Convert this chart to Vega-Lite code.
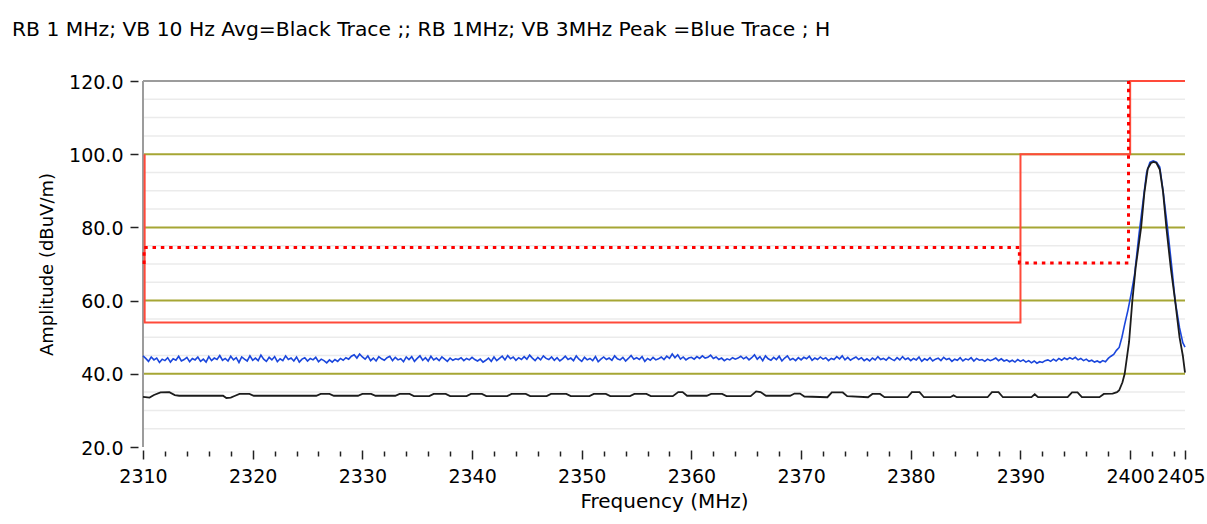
{
"$schema": "https://vega.github.io/schema/vega-lite/v6.json",
"width": 1042,
"height": 366,
"autosize": {"type": "none"},
"padding": {"left": 143, "top": 81, "right": 22, "bottom": 77},
"background": "white",
"config": {"view": {"stroke": null}, "font": "DejaVu Sans"},
"title": {"text": "RB 1 MHz; VB 10 Hz Avg=Black Trace ;; RB 1MHz; VB 3MHz Peak =Blue Trace ; H", "anchor": "start", "frame": "group", "dx": -131, "offset": 33, "fontSize": 20.3, "fontWeight": "normal", "color": "#000000", "font": "DejaVu Sans"},
"resolve": {"axis": {"x": "independent", "y": "independent"}},
"datasets": {
"minor": [{"g":25},{"g":30},{"g":35},{"g":45},{"g":50},{"g":55},{"g":65},{"g":70},{"g":75},{"g":85},{"g":90},{"g":95},{"g":105},{"g":110},{"g":115}],
"major": [{"g":40},{"g":60},{"g":80},{"g":100}],
"topb": [{"g":120}],
"leftb": [{"f":2310}],
"solid": [{"o":1,"f":2310.15,"v":100},{"o":2,"f":2310.15,"v":54},{"o":3,"f":2390,"v":54},{"o":4,"f":2390,"v":100},{"o":5,"f":2400,"v":100},{"o":6,"f":2400,"v":120},{"o":7,"f":2405,"v":120}],
"dotted": [{"o":1,"f":2310.1,"v":70},{"o":2,"f":2310.1,"v":74.5},{"o":3,"f":2389.9,"v":74.5},{"o":4,"f":2389.9,"v":70.3},{"o":5,"f":2399.85,"v":70.3},{"o":6,"f":2399.85,"v":120}],
"black": [{"f":2310,"v":33.7},{"f":2310.6,"v":33.5},{"f":2311,"v":34.2},{"f":2311.6,"v":34.9},{"f":2312.4,"v":35},{"f":2312.9,"v":34.2},{"f":2313.3,"v":34},{"f":2317.3,"v":34},{"f":2317.6,"v":33.4},{"f":2318,"v":33.5},{"f":2318.4,"v":34},{"f":2318.8,"v":34.5},{"f":2319.7,"v":34.5},{"f":2320.1,"v":34},{"f":2325.8,"v":34},{"f":2326.2,"v":34.5},{"f":2327,"v":34.5},{"f":2327.4,"v":34},{"f":2329.6,"v":34},{"f":2330,"v":34.5},{"f":2330.8,"v":34.5},{"f":2331.2,"v":34},{"f":2333,"v":34},{"f":2333.4,"v":34.5},{"f":2334.3,"v":34.5},{"f":2334.7,"v":33.9},{"f":2336.1,"v":33.9},{"f":2336.5,"v":34.5},{"f":2337.6,"v":34.5},{"f":2338,"v":33.9},{"f":2339.5,"v":33.9},{"f":2339.9,"v":34.5},{"f":2340.9,"v":34.5},{"f":2341.3,"v":33.9},{"f":2343.2,"v":33.9},{"f":2343.6,"v":34.5},{"f":2344.9,"v":34.5},{"f":2345.3,"v":33.9},{"f":2346.8,"v":33.9},{"f":2347.2,"v":34.5},{"f":2348.6,"v":34.5},{"f":2349,"v":33.9},{"f":2350.7,"v":33.9},{"f":2351.1,"v":34.5},{"f":2352.2,"v":34.5},{"f":2352.6,"v":33.9},{"f":2354.4,"v":33.9},{"f":2354.8,"v":34.5},{"f":2355.9,"v":34.5},{"f":2356.3,"v":33.9},{"f":2358.3,"v":33.9},{"f":2358.8,"v":35},{"f":2359.2,"v":35},{"f":2359.6,"v":34},{"f":2361.4,"v":34},{"f":2361.8,"v":34.5},{"f":2362.8,"v":34.5},{"f":2363.2,"v":33.9},{"f":2365.4,"v":33.9},{"f":2365.9,"v":35.2},{"f":2366.3,"v":35},{"f":2366.8,"v":34},{"f":2369,"v":34},{"f":2369.4,"v":34.6},{"f":2369.9,"v":34.6},{"f":2370.3,"v":33.8},{"f":2372.4,"v":33.6},{"f":2372.8,"v":34.9},{"f":2373.8,"v":34.9},{"f":2374.2,"v":33.9},{"f":2376.1,"v":33.6},{"f":2376.5,"v":34.5},{"f":2377.2,"v":34.5},{"f":2377.6,"v":33.6},{"f":2379.7,"v":33.6},{"f":2380.1,"v":35},{"f":2380.8,"v":35},{"f":2381.2,"v":33.6},{"f":2383.6,"v":33.6},{"f":2383.9,"v":34.1},{"f":2384.2,"v":33.6},{"f":2387,"v":33.6},{"f":2387.4,"v":35},{"f":2388,"v":35},{"f":2388.4,"v":33.6},{"f":2391,"v":33.6},{"f":2391.3,"v":34.4},{"f":2391.6,"v":33.6},{"f":2394.3,"v":33.6},{"f":2394.7,"v":34.9},{"f":2395.2,"v":34.9},{"f":2395.6,"v":33.6},{"f":2397.2,"v":33.6},{"f":2397.6,"v":34.5},{"f":2398.4,"v":34.6},{"f":2398.8,"v":35},{"f":2399,"v":35.5},{"f":2399.3,"v":37.7},{"f":2399.5,"v":40},{"f":2399.9,"v":48.7},{"f":2400.2,"v":60},{"f":2400.5,"v":69},{"f":2401,"v":80},{"f":2401.3,"v":89.6},{"f":2401.6,"v":96},{"f":2401.9,"v":97.6},{"f":2402.15,"v":97.9},{"f":2402.4,"v":97.6},{"f":2402.7,"v":95.8},{"f":2403,"v":89.7},{"f":2403.3,"v":80},{"f":2403.7,"v":69},{"f":2404.1,"v":60},{"f":2404.5,"v":50},{"f":2404.8,"v":45},{"f":2405,"v":40.3}],
"blue": [
{"f":2310,"v":44.9},{"f":2310.25,"v":44.2},{"f":2310.5,"v":43.4},{"f":2310.75,"v":44.6},{"f":2311,"v":43.8},{"f":2311.25,"v":44.3},{"f":2311.5,"v":43.1},{"f":2311.75,"v":44.0},{"f":2312,"v":43.6},{"f":2312.25,"v":44.4},
{"f":2312.5,"v":43.2},{"f":2312.75,"v":44.1},{"f":2313,"v":43.7},{"f":2313.25,"v":44.8},{"f":2313.5,"v":43.5},{"f":2313.75,"v":43.9},{"f":2314,"v":44.5},{"f":2314.25,"v":43.3},{"f":2314.5,"v":44.2},{"f":2314.75,"v":43.8},
{"f":2315,"v":44.6},{"f":2315.25,"v":43.4},{"f":2315.5,"v":44.0},{"f":2315.75,"v":43.2},{"f":2316,"v":44.7},{"f":2316.25,"v":43.6},{"f":2316.5,"v":44.3},{"f":2316.75,"v":43.9},{"f":2317,"v":45.0},{"f":2317.25,"v":43.7},
{"f":2317.5,"v":44.2},{"f":2317.75,"v":43.5},{"f":2318,"v":44.8},{"f":2318.25,"v":43.8},{"f":2318.5,"v":44.4},{"f":2318.75,"v":43.1},{"f":2319,"v":44.6},{"f":2319.25,"v":44.0},{"f":2319.5,"v":43.5},{"f":2319.75,"v":44.9},
{"f":2320,"v":43.7},{"f":2320.25,"v":44.3},{"f":2320.5,"v":43.6},{"f":2320.75,"v":45.1},{"f":2321,"v":44.0},{"f":2321.25,"v":43.4},{"f":2321.5,"v":44.5},{"f":2321.75,"v":43.8},{"f":2322,"v":44.7},{"f":2322.25,"v":43.3},
{"f":2322.5,"v":44.1},{"f":2322.75,"v":43.6},{"f":2323,"v":44.9},{"f":2323.25,"v":43.9},{"f":2323.5,"v":44.3},{"f":2323.75,"v":43.5},{"f":2324,"v":44.6},{"f":2324.25,"v":43.2},{"f":2324.5,"v":44.0},{"f":2324.75,"v":44.4},
{"f":2325,"v":43.5},{"f":2325.25,"v":44.2},{"f":2325.5,"v":43.8},{"f":2325.75,"v":44.5},{"f":2326,"v":43.3},{"f":2326.25,"v":44.0},{"f":2326.5,"v":43.6},{"f":2326.75,"v":43.0},{"f":2327,"v":43.8},{"f":2327.25,"v":43.2},
{"f":2327.5,"v":43.9},{"f":2327.75,"v":43.4},{"f":2328,"v":44.2},{"f":2328.25,"v":43.7},{"f":2328.5,"v":44.4},{"f":2328.75,"v":44.0},{"f":2329,"v":44.8},{"f":2329.25,"v":45.2},{"f":2329.5,"v":44.3},{"f":2329.75,"v":45.4},
{"f":2330,"v":44.6},{"f":2330.25,"v":44.0},{"f":2330.5,"v":44.9},{"f":2330.75,"v":43.6},{"f":2331,"v":44.3},{"f":2331.25,"v":43.5},{"f":2331.5,"v":44.7},{"f":2331.75,"v":44.1},{"f":2332,"v":43.7},{"f":2332.25,"v":44.4},
{"f":2332.5,"v":44.8},{"f":2332.75,"v":43.6},{"f":2333,"v":44.5},{"f":2333.25,"v":43.8},{"f":2333.5,"v":44.1},{"f":2333.75,"v":43.3},{"f":2334,"v":44.6},{"f":2334.25,"v":43.9},{"f":2334.5,"v":44.7},{"f":2334.75,"v":43.4},
{"f":2335,"v":44.2},{"f":2335.25,"v":44.9},{"f":2335.5,"v":43.7},{"f":2335.75,"v":44.4},{"f":2336,"v":43.5},{"f":2336.25,"v":44.8},{"f":2336.5,"v":43.8},{"f":2336.75,"v":44.3},{"f":2337,"v":43.6},{"f":2337.25,"v":44.6},
{"f":2337.5,"v":44.0},{"f":2337.75,"v":43.4},{"f":2338,"v":44.3},{"f":2338.25,"v":43.7},{"f":2338.5,"v":44.1},{"f":2338.75,"v":43.9},{"f":2339,"v":44.4},{"f":2339.25,"v":43.6},{"f":2339.5,"v":44.2},{"f":2339.75,"v":43.8},
{"f":2340,"v":44.5},{"f":2340.25,"v":43.9},{"f":2340.5,"v":43.5},{"f":2340.75,"v":44.0},{"f":2341,"v":43.2},{"f":2341.25,"v":43.7},{"f":2341.5,"v":44.3},{"f":2341.75,"v":43.4},{"f":2342,"v":44.6},{"f":2342.25,"v":43.6},
{"f":2342.5,"v":44.2},{"f":2342.75,"v":44.8},{"f":2343,"v":43.8},{"f":2343.25,"v":45.0},{"f":2343.5,"v":44.1},{"f":2343.75,"v":44.6},{"f":2344,"v":43.7},{"f":2344.25,"v":44.4},{"f":2344.5,"v":43.9},{"f":2344.75,"v":44.7},
{"f":2345,"v":44.0},{"f":2345.25,"v":45.1},{"f":2345.5,"v":44.3},{"f":2345.75,"v":43.6},{"f":2346,"v":44.5},{"f":2346.25,"v":43.8},{"f":2346.5,"v":44.9},{"f":2346.75,"v":44.2},{"f":2347,"v":43.9},{"f":2347.25,"v":44.6},
{"f":2347.5,"v":43.7},{"f":2347.75,"v":44.4},{"f":2348,"v":43.5},{"f":2348.25,"v":44.1},{"f":2348.5,"v":44.8},{"f":2348.75,"v":43.9},{"f":2349,"v":44.3},{"f":2349.25,"v":43.6},{"f":2349.5,"v":44.9},{"f":2349.75,"v":44.0},
{"f":2350,"v":43.4},{"f":2350.25,"v":44.5},{"f":2350.5,"v":43.8},{"f":2350.75,"v":44.2},{"f":2351,"v":43.6},{"f":2351.25,"v":44.7},{"f":2351.5,"v":43.3},{"f":2351.75,"v":44.0},{"f":2352,"v":44.6},{"f":2352.25,"v":43.9},
{"f":2352.5,"v":44.3},{"f":2352.75,"v":43.7},{"f":2353,"v":44.9},{"f":2353.25,"v":44.1},{"f":2353.5,"v":43.8},{"f":2353.75,"v":44.5},{"f":2354,"v":43.5},{"f":2354.25,"v":44.2},{"f":2354.5,"v":45.0},{"f":2354.75,"v":44.0},
{"f":2355,"v":44.4},{"f":2355.25,"v":43.9},{"f":2355.5,"v":44.7},{"f":2355.75,"v":43.4},{"f":2356,"v":44.2},{"f":2356.25,"v":43.7},{"f":2356.5,"v":44.5},{"f":2356.75,"v":43.8},{"f":2357,"v":44.1},{"f":2357.25,"v":44.6},
{"f":2357.5,"v":43.9},{"f":2357.75,"v":44.8},{"f":2358,"v":44.2},{"f":2358.25,"v":45.4},{"f":2358.5,"v":44.4},{"f":2358.75,"v":45.2},{"f":2359,"v":44.0},{"f":2359.25,"v":44.6},{"f":2359.5,"v":43.8},{"f":2359.75,"v":44.3},
{"f":2360,"v":44.5},{"f":2360.25,"v":44.0},{"f":2360.5,"v":44.7},{"f":2360.75,"v":44.2},{"f":2361,"v":44.9},{"f":2361.25,"v":44.3},{"f":2361.5,"v":44.5},{"f":2361.75,"v":45.1},{"f":2362,"v":44.2},{"f":2362.25,"v":44.6},
{"f":2362.5,"v":43.9},{"f":2362.75,"v":44.3},{"f":2363,"v":43.6},{"f":2363.25,"v":44.1},{"f":2363.5,"v":43.8},{"f":2363.75,"v":44.4},{"f":2364,"v":44.0},{"f":2364.25,"v":44.3},{"f":2364.5,"v":44.8},{"f":2364.75,"v":44.1},
{"f":2365,"v":44.6},{"f":2365.25,"v":43.8},{"f":2365.5,"v":44.4},{"f":2365.75,"v":45.2},{"f":2366,"v":44.0},{"f":2366.25,"v":44.7},{"f":2366.5,"v":43.6},{"f":2366.75,"v":44.9},{"f":2367,"v":44.1},{"f":2367.25,"v":43.7},
{"f":2367.5,"v":44.5},{"f":2367.75,"v":43.9},{"f":2368,"v":44.8},{"f":2368.25,"v":43.5},{"f":2368.5,"v":44.3},{"f":2368.75,"v":44.9},{"f":2369,"v":43.8},{"f":2369.25,"v":44.2},{"f":2369.5,"v":43.6},{"f":2369.75,"v":44.4},
{"f":2370,"v":43.8},{"f":2370.25,"v":44.5},{"f":2370.5,"v":44.1},{"f":2370.75,"v":44.8},{"f":2371,"v":43.7},{"f":2371.25,"v":44.3},{"f":2371.5,"v":43.9},{"f":2371.75,"v":44.6},{"f":2372,"v":44.0},{"f":2372.25,"v":44.4},
{"f":2372.5,"v":43.6},{"f":2372.75,"v":44.2},{"f":2373,"v":43.9},{"f":2373.25,"v":44.7},{"f":2373.5,"v":44.1},{"f":2373.75,"v":44.9},{"f":2374,"v":43.8},{"f":2374.25,"v":44.5},{"f":2374.5,"v":43.7},{"f":2374.75,"v":44.2},
{"f":2375,"v":44.6},{"f":2375.25,"v":43.9},{"f":2375.5,"v":44.4},{"f":2375.75,"v":43.6},{"f":2376,"v":44.1},{"f":2376.25,"v":43.5},{"f":2376.5,"v":44.3},{"f":2376.75,"v":43.8},{"f":2377,"v":44.7},{"f":2377.25,"v":43.9},
{"f":2377.5,"v":44.2},{"f":2377.75,"v":43.7},{"f":2378,"v":44.5},{"f":2378.25,"v":44.0},{"f":2378.5,"v":43.6},{"f":2378.75,"v":44.4},{"f":2379,"v":43.8},{"f":2379.25,"v":44.7},{"f":2379.5,"v":43.9},{"f":2379.75,"v":44.3},
{"f":2380,"v":43.6},{"f":2380.25,"v":44.2},{"f":2380.5,"v":43.8},{"f":2380.75,"v":44.6},{"f":2381,"v":43.4},{"f":2381.25,"v":44.1},{"f":2381.5,"v":43.7},{"f":2381.75,"v":44.4},{"f":2382,"v":43.5},{"f":2382.25,"v":44.0},
{"f":2382.5,"v":44.3},{"f":2382.75,"v":43.6},{"f":2383,"v":44.5},{"f":2383.25,"v":43.9},{"f":2383.5,"v":44.2},{"f":2383.75,"v":43.4},{"f":2384,"v":44.0},{"f":2384.25,"v":43.7},{"f":2384.5,"v":44.4},{"f":2384.75,"v":43.5},
{"f":2385,"v":44.1},{"f":2385.25,"v":43.8},{"f":2385.5,"v":44.4},{"f":2385.75,"v":43.5},{"f":2386,"v":44.2},{"f":2386.25,"v":43.7},{"f":2386.5,"v":43.9},{"f":2386.75,"v":43.4},{"f":2387,"v":44.0},{"f":2387.25,"v":43.6},
{"f":2387.5,"v":43.9},{"f":2387.75,"v":44.3},{"f":2388,"v":43.6},{"f":2388.25,"v":44.1},{"f":2388.5,"v":43.5},{"f":2388.75,"v":43.8},{"f":2389,"v":43.3},{"f":2389.25,"v":43.7},{"f":2389.5,"v":43.2},{"f":2389.75,"v":43.9},
{"f":2390,"v":43.4},{"f":2390.25,"v":43.8},{"f":2390.5,"v":43.2},{"f":2390.75,"v":43.6},{"f":2391,"v":43.0},{"f":2391.25,"v":43.5},{"f":2391.5,"v":42.9},{"f":2391.75,"v":43.3},{"f":2392,"v":43.1},{"f":2392.25,"v":43.6},
{"f":2392.5,"v":43.8},{"f":2392.75,"v":43.4},{"f":2393,"v":44.0},{"f":2393.25,"v":43.5},{"f":2393.5,"v":44.2},{"f":2393.75,"v":43.7},{"f":2394,"v":44.3},{"f":2394.25,"v":43.9},{"f":2394.5,"v":44.4},{"f":2394.75,"v":44.0},
{"f":2395,"v":44.5},{"f":2395.25,"v":43.8},{"f":2395.5,"v":44.2},{"f":2395.75,"v":43.6},{"f":2396,"v":44.0},{"f":2396.25,"v":43.4},{"f":2396.5,"v":43.7},{"f":2396.75,"v":43.2},{"f":2397,"v":43.5},{"f":2397.25,"v":43.1},
{"f":2397.5,"v":43.6},{"f":2397.75,"v":43.3},{"f":2398,"v":44.2},{"f":2398.25,"v":44.8},
{"f":2398.5,"v":45.3},{"f":2398.75,"v":46.4},{"f":2399,"v":47.2},{"f":2399.25,"v":50.0},{"f":2399.5,"v":53.5},{"f":2399.8,"v":57.4},{"f":2400.1,"v":62.0},{"f":2400.4,"v":67.0},{"f":2400.8,"v":78.0},{"f":2401.2,"v":87.7},{"f":2401.5,"v":95.0},{"f":2401.8,"v":97.8},{"f":2402.1,"v":98.2},{"f":2402.4,"v":97.8},{"f":2402.7,"v":96.5},{"f":2403,"v":90.0},{"f":2403.4,"v":80.0},{"f":2403.8,"v":69.0},{"f":2404.1,"v":60.0},{"f":2404.5,"v":52.6},{"f":2404.8,"v":48.5},{"f":2405,"v":47.3}
]
},
"layer": [
{"data": {"name": "minor"}, "mark": {"type": "rule", "color": "#ebebeb", "strokeWidth": 1.5},
 "encoding": {"y": {"field": "g", "type": "quantitative", "scale": {"domain": [20, 120], "nice": false, "zero": false}, "axis": null}}},
{"data": {"name": "major"}, "mark": {"type": "rule", "color": "#a6a634", "strokeWidth": 2},
 "encoding": {"y": {"field": "g", "type": "quantitative", "scale": {"domain": [20, 120], "nice": false, "zero": false}, "axis": null}}},
{"data": {"name": "topb"}, "mark": {"type": "rule", "color": "#9c9c9c", "strokeWidth": 2},
 "encoding": {"y": {"field": "g", "type": "quantitative", "scale": {"domain": [20, 120], "nice": false, "zero": false}, "axis": null}}},
{"data": {"name": "leftb"}, "mark": {"type": "rule", "color": "#9c9c9c", "strokeWidth": 2},
 "encoding": {"x": {"field": "f", "type": "quantitative", "scale": {"domain": [2310, 2405], "nice": false, "zero": false},
   "axis": {"orient": "bottom", "title": "Frequency (MHz)", "values": [2310,2320,2330,2340,2350,2360,2370,2380,2390,2400],
    "format": "d", "tickSize": 9,
    "offset": 3, "domain": false, "grid": false, "tickColor": "#222222", "tickWidth": 1.5,
    "labelFontSize": 19, "labelColor": "#000000", "labelPadding": 8, "labelOverlap": false, "labelFlush": false,
    "titleFontSize": 20, "titleFontWeight": "normal", "titleColor": "#000000", "titlePadding": 5}}}},
{"data": {"name": "blue"}, "mark": {"type": "line", "color": "#1a46dc", "strokeWidth": 1.6},
 "encoding": {
  "x": {"field": "f", "type": "quantitative", "scale": {"domain": [2310, 2405], "nice": false, "zero": false},
   "axis": {"orient": "bottom", "title": null, "labels": false, "values": [2312,2314,2316,2318,2322,2324,2326,2328,2332,2334,2336,2338,2342,2344,2346,2348,2352,2354,2356,2358,2362,2364,2366,2368,2372,2374,2376,2378,2382,2384,2386,2388,2392,2394,2396,2398,2402,2404],
    "tickSize": 5, "offset": 4, "domain": false, "grid": false, "tickColor": "#222222", "tickWidth": 1.5}},
  "y": {"field": "v", "type": "quantitative", "scale": {"domain": [20, 120], "nice": false, "zero": false},
   "axis": {"orient": "left", "title": "Amplitude (dBuV/m)", "values": [20, 40, 60, 80, 100, 120], "format": ".1f",
    "offset": 5, "domain": false, "grid": false, "tickSize": 8, "tickColor": "#222222", "tickWidth": 1.5,
    "labelFontSize": 19, "labelColor": "#000000", "labelPadding": 7, "labelFlush": false, "labelOffset": 1,
    "titleFontSize": 18, "titleFontWeight": "normal", "titleColor": "#000000", "titlePadding": 12}}}},
{"data": {"name": "black"}, "mark": {"type": "line", "color": "#1c1c1c", "strokeWidth": 1.8},
 "encoding": {
  "x": {"field": "f", "type": "quantitative", "scale": {"domain": [2310, 2405], "nice": false, "zero": false},
   "axis": {"orient": "bottom", "title": null, "values": [2405], "format": "d", "tickSize": 9,
    "offset": 3, "domain": false, "grid": false, "tickColor": "#222222", "tickWidth": 1.5,
    "labelFontSize": 19, "labelColor": "#000000", "labelPadding": 8, "labelOffset": -4, "labelOverlap": false, "labelFlush": false, "labelBound": false}},
  "y": {"field": "v", "type": "quantitative", "scale": {"domain": [20, 120], "nice": false, "zero": false}, "axis": null}}},
{"data": {"name": "solid"}, "mark": {"type": "line", "color": "#ff4a3a", "strokeWidth": 2},
 "encoding": {
  "x": {"field": "f", "type": "quantitative", "scale": {"domain": [2310, 2405], "nice": false, "zero": false}, "axis": null},
  "y": {"field": "v", "type": "quantitative", "scale": {"domain": [20, 120], "nice": false, "zero": false}, "axis": null},
  "order": {"field": "o", "type": "quantitative"}}},
{"data": {"name": "dotted"}, "mark": {"type": "line", "color": "#ff0000", "strokeWidth": 3, "strokeDash": [3.5, 4.8]},
 "encoding": {
  "x": {"field": "f", "type": "quantitative", "scale": {"domain": [2310, 2405], "nice": false, "zero": false}, "axis": null},
  "y": {"field": "v", "type": "quantitative", "scale": {"domain": [20, 120], "nice": false, "zero": false}, "axis": null},
  "order": {"field": "o", "type": "quantitative"}}}
]
}
